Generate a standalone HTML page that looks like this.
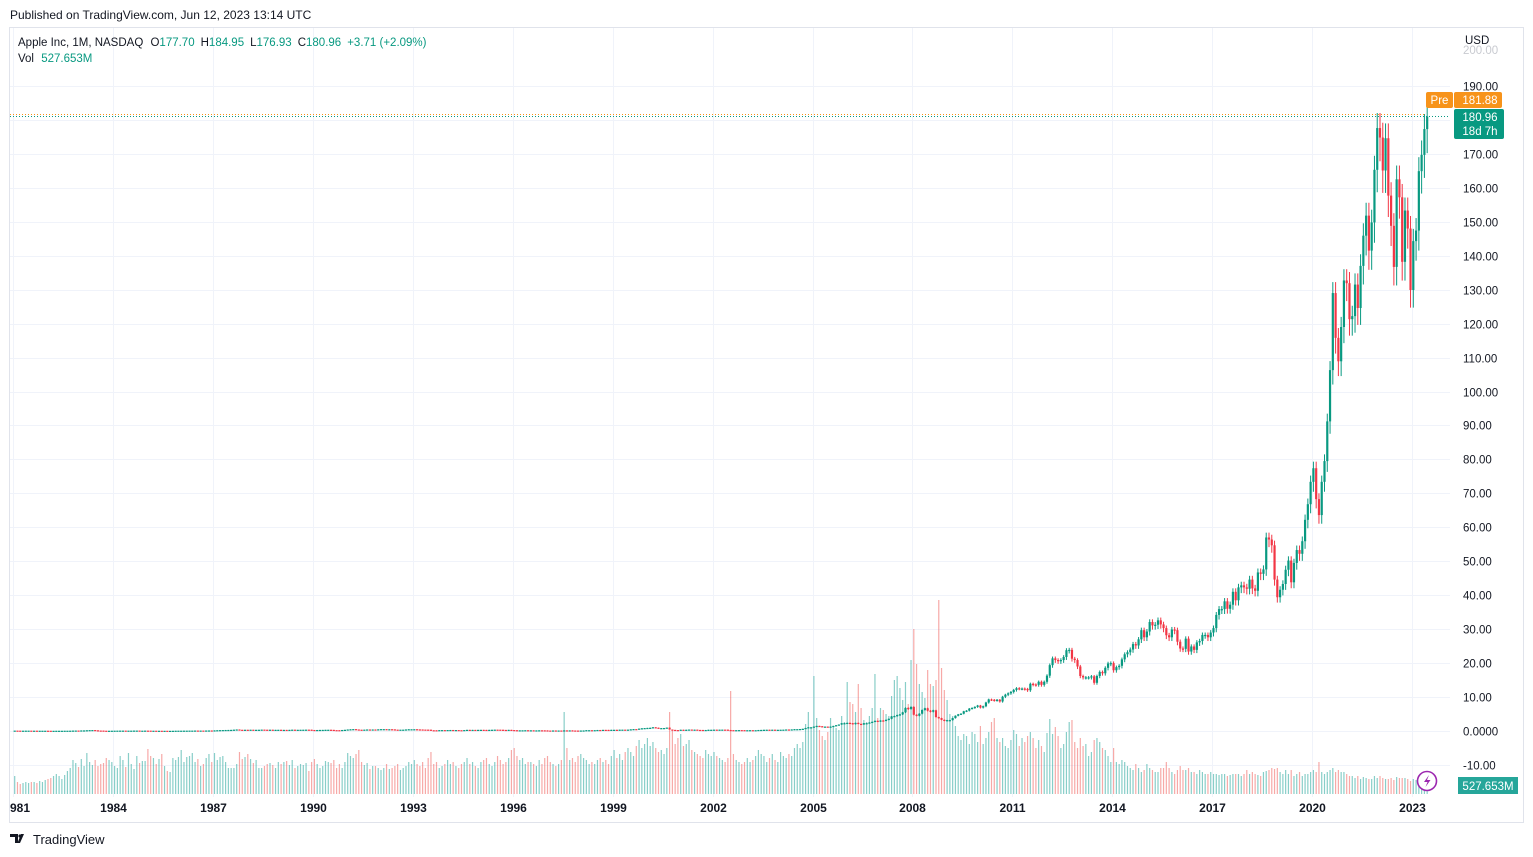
<!DOCTYPE html>
<html><head><meta charset="utf-8">
<style>
body{margin:0;background:#fff;font-family:"Liberation Sans",sans-serif;}
#wrap{position:relative;width:1533px;height:857px;overflow:hidden;}
</style></head>
<body>
<div id="wrap">
<svg id="svg" width="1533" height="857" xmlns="http://www.w3.org/2000/svg">
<text x="10" y="19" font-size="12" fill="#131722">Published on TradingView.com, Jun 12, 2023 13:14 UTC</text>
<rect x="9.5" y="27.5" width="1514" height="795" fill="#fff" stroke="#e0e3eb"/>
<g id="grid"></g>
<g id="vol"></g>
<g id="candles"></g>
<g id="axes"></g>
<line x1="10" y1="116.5" x2="1450" y2="116.5" stroke="#089981" stroke-dasharray="1,2"/>
<line x1="10" y1="114.5" x2="1425" y2="114.5" stroke="#f7931a" stroke-dasharray="1,2"/>
<g font-size="11.5" xml:space="preserve">
<text x="18" y="46" fill="#131722">Apple Inc, 1M, NASDAQ  <tspan dx="4">O</tspan><tspan fill="#089981">177.70</tspan><tspan dx="6">H</tspan><tspan fill="#089981">184.95</tspan><tspan dx="6">L</tspan><tspan fill="#089981">176.93</tspan><tspan dx="6">C</tspan><tspan fill="#089981">180.96</tspan><tspan dx="6" fill="#089981">+3.71 (+2.09%)</tspan></text>
<text x="18" y="62" fill="#131722">Vol <tspan fill="#089981" dx="4">527.653M</tspan></text>
</g>
<text x="1465" y="44" font-size="11.5" fill="#131722">USD</text>
<g>
<rect x="1426" y="92" width="27" height="16" rx="2" fill="#f7931a"/><text x="1439.5" y="104" font-size="11.5" fill="#fff" text-anchor="middle">Pre</text>
<rect x="1454" y="92" width="48" height="16" rx="2" fill="#f7931a"/><text x="1480" y="104" font-size="11.5" fill="#fff" text-anchor="middle">181.88</text>
</g>
<g>
<rect x="1454" y="109" width="50" height="30" rx="2" fill="#089981"/>
<text x="1480" y="121" font-size="11.5" fill="#fff" text-anchor="middle">180.96</text>
<text x="1480" y="135" font-size="11.5" fill="#fff" text-anchor="middle">18d 7h</text>
</g>
<g>
<rect x="1458" y="777" width="60" height="17" fill="#26a69a"/><text x="1488" y="790" font-size="11.5" fill="#fff" text-anchor="middle">527.653M</text>
</g>
<g>
<circle cx="1427" cy="781" r="9.5" fill="#fff" stroke="#9c27b0" stroke-width="1.6"/>
<path d="M1429 775 L1424 782 L1427.5 782 L1425.5 787 L1430.5 780 L1427 780 Z" fill="#9c27b0"/>
</g>
<g>
<path d="M10 834 h8 v9 h-3 v-6 h-5 z M21 834 l3 0 l-4 9 l-2.5 0 z" fill="#131722"/>
<circle cx="20" cy="836" r="1.6" fill="#131722"/>
<text x="33" y="844" font-size="13" fill="#131722">TradingView</text>
</g>
</svg>
</div>
<script>
// Monthly closes Jan 1981 .. Jun 2023
const closes = [
.12,.11,.10,.10,.11,.11,.10,.10,.08,.09,.09,.09,
.08,.07,.07,.08,.08,.08,.09,.09,.10,.13,.14,.13,
.17,.18,.22,.26,.28,.20,.14,.13,.09,.08,.08,.09,
.10,.11,.12,.12,.11,.11,.11,.13,.13,.10,.10,.12,
.11,.09,.09,.08,.08,.07,.07,.06,.06,.07,.09,.10,
.10,.11,.11,.12,.12,.14,.12,.13,.12,.15,.16,.15,
.19,.23,.26,.28,.30,.31,.33,.39,.45,.36,.35,.37,
.36,.38,.36,.36,.37,.41,.38,.35,.38,.33,.35,.36,
.31,.33,.32,.34,.39,.36,.36,.37,.38,.40,.38,.30,
.28,.30,.32,.33,.36,.37,.33,.26,.25,.23,.30,.35,
.45,.50,.55,.45,.38,.36,.40,.45,.42,.45,.42,.49,
.55,.55,.50,.52,.48,.40,.38,.39,.40,.46,.51,.51,
.52,.47,.45,.42,.41,.38,.23,.22,.20,.26,.27,.25,
.29,.30,.28,.28,.24,.23,.28,.34,.30,.33,.32,.34,
.35,.33,.31,.34,.37,.40,.39,.37,.32,.30,.34,.28,
.24,.21,.21,.21,.23,.19,.21,.19,.19,.21,.20,.18,
.14,.13,.16,.15,.15,.13,.19,.18,.19,.15,.14,.11,
.15,.16,.24,.24,.22,.25,.30,.26,.34,.33,.27,.35,
.36,.32,.39,.40,.39,.41,.49,.56,.54,.70,.80,.86,
.91,.95,1.1,.97,.71,.85,.87,1.0,.44,.33,.28,.25,
.37,.31,.37,.43,.34,.40,.32,.31,.26,.30,.36,.37,
.40,.37,.40,.41,.40,.30,.26,.25,.25,.27,.26,.24,
.24,.25,.24,.24,.30,.32,.36,.38,.35,.39,.35,.36,
.38,.40,.45,.43,.47,.54,.54,.58,.65,.89,1.1,1.1,
1.3,1.5,1.4,1.2,1.3,1.2,1.3,1.5,1.7,1.9,2.3,2.3,
2.4,2.3,2.0,2.4,2.1,1.9,2.3,2.3,2.5,2.7,3.0,2.8,
3.1,3.0,3.3,3.6,4.3,4.4,4.7,4.9,5.5,6.8,6.5,7.1,
4.8,4.5,5.1,6.2,6.7,6.0,5.7,6.1,4.1,3.8,3.3,3.0,
3.2,3.2,3.8,4.5,4.9,5.1,5.8,6.0,6.6,6.8,7.1,7.5,
6.9,7.3,8.4,9.3,9.2,9.0,9.2,8.7,10.1,10.7,11.1,11.5,
12.1,12.6,12.5,12.5,12.4,12.0,13.9,13.7,13.6,14.5,13.6,14.5,
16.3,19.4,21.4,20.9,20.6,20.9,21.8,23.8,23.9,21.3,20.9,19.0,
16.2,15.8,15.8,15.8,16.1,14.2,16.2,17.4,17.0,18.6,19.9,20.0,
17.9,18.8,19.2,21.1,22.6,23.2,24.0,25.6,25.2,27.0,29.7,27.6,
29.3,32.1,31.1,31.3,32.6,31.4,30.3,28.2,27.6,29.9,29.7,26.3,
24.3,24.2,27.2,23.4,24.9,23.9,26.1,26.5,28.3,28.3,27.6,29.0,
30.3,34.2,35.9,35.9,38.2,36.0,37.2,41.0,38.5,42.3,42.9,42.3,
41.9,44.6,42.0,41.3,46.7,46.3,47.6,57.0,56.4,54.7,44.6,39.4,
41.6,43.3,47.5,50.2,43.8,49.5,53.3,52.2,55.9,62.2,66.8,73.4,
77.4,68.3,63.6,73.4,79.5,91.2,106.3,129.0,115.8,108.9,119.0,132.7,
131.9,121.3,122.2,131.5,124.6,137.0,145.9,151.8,141.5,149.8,165.3,177.6,
174.8,165.1,174.6,157.7,148.8,136.7,162.5,157.2,138.2,153.3,148.0,129.9,
144.3,147.4,164.9,169.7,177.3,180.96
];
// Monthly volume (billions of shares), Jan 1981 .. Jun 2023
const volumes = [
1.8,1.2,1.0,1.1,1.2,1.1,1.2,1.2,1.1,1.3,1.2,1.4,
1.5,1.6,1.8,2.0,1.8,1.5,1.9,2.3,2.6,3.4,3.1,2.7,
3.5,2.8,4.1,3.2,2.9,3.4,2.8,3.0,3.1,3.6,3.4,3.2,
2.8,2.6,3.8,3.4,2.7,4.1,3.0,2.5,3.8,3.1,3.3,3.3,
4.5,3.8,3.6,3.0,3.5,4.0,2.8,2.3,2.2,3.6,3.4,3.7,
4.4,3.2,3.7,3.8,4.1,3.2,3.5,2.8,3.0,3.6,4.0,3.2,
4.1,3.4,3.7,3.8,3.2,2.6,2.6,2.6,3.0,4.2,3.5,3.7,
4.0,3.5,3.1,3.4,2.6,2.6,2.8,3.0,3.1,2.9,2.6,3.2,
3.0,3.2,3.3,2.9,3.4,2.6,2.8,3.0,2.9,3.1,2.3,3.2,
3.5,3.0,2.6,2.8,3.3,3.2,3.1,3.4,2.6,3.0,2.6,3.2,
4.1,3.8,3.6,4.0,4.4,3.2,2.9,3.1,2.5,2.8,2.8,2.6,
2.4,2.6,3.0,2.5,2.6,2.8,3.0,2.4,2.6,2.8,3.2,3.0,
3.4,3.0,2.8,3.2,2.6,3.6,4.2,3.0,3.2,2.6,2.8,3.0,
3.4,3.0,3.2,2.8,2.6,3.0,3.2,3.6,3.0,3.2,2.8,2.6,
3.2,3.4,3.6,3.0,2.8,3.2,3.8,3.4,3.0,3.2,3.6,4.4,
4.6,3.8,3.4,3.6,3.0,3.2,3.2,3.0,2.8,3.4,3.0,3.6,
3.8,3.2,3.0,2.8,3.0,3.4,8.2,4.6,3.4,3.6,3.2,3.8,
4.0,3.6,3.4,3.0,3.2,3.0,3.4,3.6,3.2,3.4,3.0,3.8,
4.4,3.6,4.0,3.4,4.2,4.6,4.2,3.8,4.8,5.4,4.6,5.0,
5.6,4.8,5.2,4.6,4.2,4.4,4.0,4.6,8.2,6.4,5.0,5.6,
6.0,4.8,5.0,5.4,4.4,4.2,4.0,3.8,3.6,4.4,4.0,3.8,
4.2,3.8,3.6,3.4,3.2,3.6,10.3,4.0,3.4,3.2,3.0,3.2,
3.6,3.2,3.4,3.8,4.4,4.0,3.8,3.2,3.6,4.0,3.4,3.2,
4.2,3.8,3.6,4.0,3.8,4.6,5.0,4.6,5.2,7.0,8.2,6.6,
11.8,7.6,6.4,5.8,5.4,6.2,7.6,6.8,6.6,6.4,7.8,7.2,
11.2,9.2,9.0,8.2,11.0,8.6,7.4,7.2,7.8,8.6,12.0,7.6,
8.6,8.4,8.0,7.8,9.8,11.4,11.8,10.6,9.4,11.2,9.0,13.4,
16.5,13.0,11.0,10.2,9.6,12.4,11.0,10.8,11.4,19.4,12.6,10.4,
9.4,8.0,7.8,6.8,5.8,5.4,6.0,5.8,5.0,6.2,6.0,5.2,
6.8,5.0,5.6,6.2,7.2,7.6,5.6,5.2,5.6,4.8,4.6,5.4,
6.4,6.0,4.8,5.6,5.2,5.8,6.2,5.6,4.6,5.4,4.8,4.2,
6.1,7.5,6.0,6.7,5.8,4.6,5.0,6.2,7.2,7.4,5.2,4.6,
5.6,4.8,5.0,3.8,4.2,5.4,5.6,5.2,4.6,4.4,3.8,3.2,
4.6,3.2,3.0,3.4,3.2,2.8,2.6,2.4,3.0,2.6,2.2,2.4,
3.0,2.6,2.4,2.2,2.2,2.6,2.6,3.2,2.6,2.2,2.0,2.4,
2.8,2.4,2.4,2.6,2.2,2.2,2.0,2.4,2.2,2.0,2.0,2.2,
2.0,2.0,1.9,2.0,2.0,1.8,1.9,2.0,2.0,2.0,1.8,2.0,
2.4,2.0,2.2,2.0,1.9,1.8,2.2,2.3,2.4,2.6,2.5,2.6,
2.2,2.0,2.4,2.0,2.4,1.8,2.0,2.2,1.8,2.0,2.0,2.2,
2.4,2.2,3.2,2.2,2.0,2.2,2.4,2.6,2.2,2.4,2.2,2.2,
2.0,1.8,1.8,1.6,1.8,1.5,1.7,1.6,1.5,1.5,1.8,1.6,
1.8,1.6,1.5,1.5,1.6,1.4,1.7,1.6,1.6,1.6,1.5,1.3,
1.5,1.4,1.5,1.2,1.4,0.9
];
const priceTicks = [190,180,170,160,150,140,130,120,110,100,90,80,70,60,50,40,30,20,10,0,-10];
const priceTickLabels = ["190.00","180.00","170.00","160.00","150.00","140.00","130.00","120.00","110.00","100.00","90.00","80.00","70.00","60.00","50.00","40.00","30.00","20.00","10.00","0.0000","-10.00"];
const yearTicks = [1981,1984,1987,1990,1993,1996,1999,2002,2005,2008,2011,2014,2017,2020,2023];
const yearTickLabels = ["981","1984","1987","1990","1993","1996","1999","2002","2005","2008","2011","2014","2017","2020","2023"];

const NS="http://www.w3.org/2000/svg";
function X(t){return 1312+(t-2020)*33.3;}
function Y(p){return 731-p*3.395;}
function VY(v){return 794-v*10;}
function mk(tag,attrs,parent){const e=document.createElementNS(NS,tag);for(const k in attrs)e.setAttribute(k,attrs[k]);parent.appendChild(e);return e;}

const grid=document.getElementById('grid'),axes=document.getElementById('axes');
priceTicks.forEach((p,i)=>{
  const y=Math.round(Y(p))+0.5;
  const l=mk('line',{x1:10,x2:1450,y1:y,y2:y,stroke:'#f0f3fa'},grid);
  
  
  const t=mk('text',{x:1463,y:y+4,'font-size':11.5,fill:'#131722'},axes);
  t.textContent=priceTickLabels[i];
  
  
});
const t200=mk('text',{x:1463,y:Y(200)+2,'font-size':11.5,fill:'#c8cad0'},axes);
t200.textContent="200.00";


yearTicks.forEach((yr,i)=>{
  const x=Math.round(X(yr))+0.5;
  const l=mk('line',{x1:x,x2:x,y1:28,y2:797,stroke:'#f0f3fa'},grid);
  
  
  const t=mk('text',{x:i===0?10:x,y:812,'font-size':12,fill:'#131722','text-anchor':i===0?'start':'middle','font-weight':'bold'},axes);
  t.textContent=yearTickLabels[i];
  
  
});

const vol=document.getElementById('vol'),cg=document.getElementById('candles');
for(let i=0;i<closes.length;i++){
  const t=1981+i/12;
  const x=X(t)+1.4;
  if(x<11)continue;
  const c=closes[i];
  const o=i>0?closes[i-1]:c;
  const up=c>=o;
  const hi=Math.max(o,c)*1.025, lo=Math.min(o,c)*0.96;
  const v=mk('line',{x1:x,x2:x,y1:794,y2:VY(volumes[i]),stroke:up?'rgba(38,166,154,0.55)':'rgba(239,83,80,0.5)','stroke-width':1.2},vol);
  
  
  const col=up?'#089981':'#f23645';
  const w=mk('line',{x1:x,x2:x,y1:Y(hi),y2:Y(lo),stroke:col,'stroke-width':1},cg);
  
  
  const yt=Y(Math.max(o,c)),yb=Y(Math.min(o,c));
  const b=mk('rect',{x:x-1.1,y:yt,width:2.2,height:Math.max(1.2,yb-yt),fill:col},cg);
  
  
}
</script>
</body></html>
